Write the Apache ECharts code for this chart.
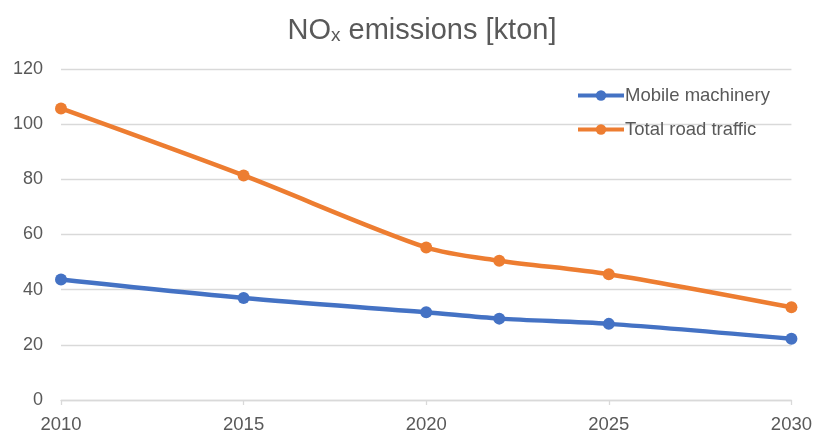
<!DOCTYPE html>
<html>
<head>
<meta charset="utf-8">
<script src="https://cdn.jsdelivr.net/npm/echarts@6/dist/echarts.min.js"></script>
<style>html,body{margin:0;padding:0;background:#fff;}#c{width:815px;height:435px;}</style>
</head>
<body>
<div id="c"></div>
<script>
var years = [2010, 2015, 2020, 2022, 2025, 2030];
var mobileMachinery = [43.7, 37.0, 31.8, 29.5, 27.6, 22.2];
var totalRoadTraffic = [105.7, 81.4, 55.3, 50.5, 45.6, 33.6];
var seriesNames = ['Mobile machinery', 'Total road traffic'];
var seriesColors = ['#4472C4', '#ED7D31'];
var xTicks = [2010, 2015, 2020, 2025, 2030];

function pairs(xs, ys) { return xs.map(function (x, i) { return [x, ys[i]]; }); }

var chart = echarts.init(document.getElementById('c'), null, { renderer: 'canvas' });
var font = 'Arial, "Liberation Sans", sans-serif';
chart.setOption({
  animation: false,
  backgroundColor: '#ffffff',
  title: {
    text: '{a|NO}{s|x}{a| emissions [kton]}',
    left: 417, top: 6, textAlign: 'center',
    textStyle: {
      fontWeight: 'normal',
      rich: {
        a: { fontSize: 29, fontWeight: 'normal', color: '#595959', fontFamily: font, verticalAlign: 'bottom', lineHeight: 34 },
        s: { fontSize: 19, fontWeight: 'normal', color: '#595959', fontFamily: font, verticalAlign: 'bottom', lineHeight: 19 }
      }
    }
  },
  legend: {
    orient: 'vertical', left: 571, top: 81,
    itemWidth: 46, itemHeight: 13, itemGap: 15,
    textStyle: { fontSize: 18.5, color: '#595959', fontFamily: font, padding: [0, 0, 0, -4] },
    data: seriesNames.map(function (n, i) {
      return { name: n, itemStyle: { color: seriesColors[i] }, lineStyle: { color: seriesColors[i], width: 4 } };
    })
  },
  grid: { left: 61, right: 22, top: 69, bottom: 35, containLabel: false },
  xAxis: {
    type: 'value', min: 2010, max: 2030, interval: 5,
    axisLine: { show: true, lineStyle: { color: '#d9d9d9', width: 1.3 } },
    axisTick: { show: true, length: 5, inside: false, lineStyle: { color: '#d9d9d9', width: 1.3 } },
    splitLine: { show: false },
    axisLabel: { fontSize: 18.5, color: '#595959', fontFamily: font, margin: 15,
      formatter: function (v) { return xTicks.indexOf(v) >= 0 ? String(v) : ''; } }
  },
  yAxis: {
    type: 'value', min: 0, max: 120, interval: 20,
    axisLine: { show: false }, axisTick: { show: false },
    splitLine: { lineStyle: { color: '#d9d9d9', width: 1.3 } },
    axisLabel: { fontSize: 18, color: '#595959', fontFamily: font, margin: 18 }
  },
  series: [
    { name: seriesNames[0], type: 'line', data: pairs(years, mobileMachinery), smooth: 0.3,
      symbol: 'circle', symbolSize: 12, color: seriesColors[0],
      lineStyle: { width: 4.5, color: seriesColors[0] }, itemStyle: { color: seriesColors[0] } },
    { name: seriesNames[1], type: 'line', data: pairs(years, totalRoadTraffic), smooth: 0.3,
      symbol: 'circle', symbolSize: 12, color: seriesColors[1],
      lineStyle: { width: 4.5, color: seriesColors[1] }, itemStyle: { color: seriesColors[1] } }
  ]
});
</script>
</body>
</html>
